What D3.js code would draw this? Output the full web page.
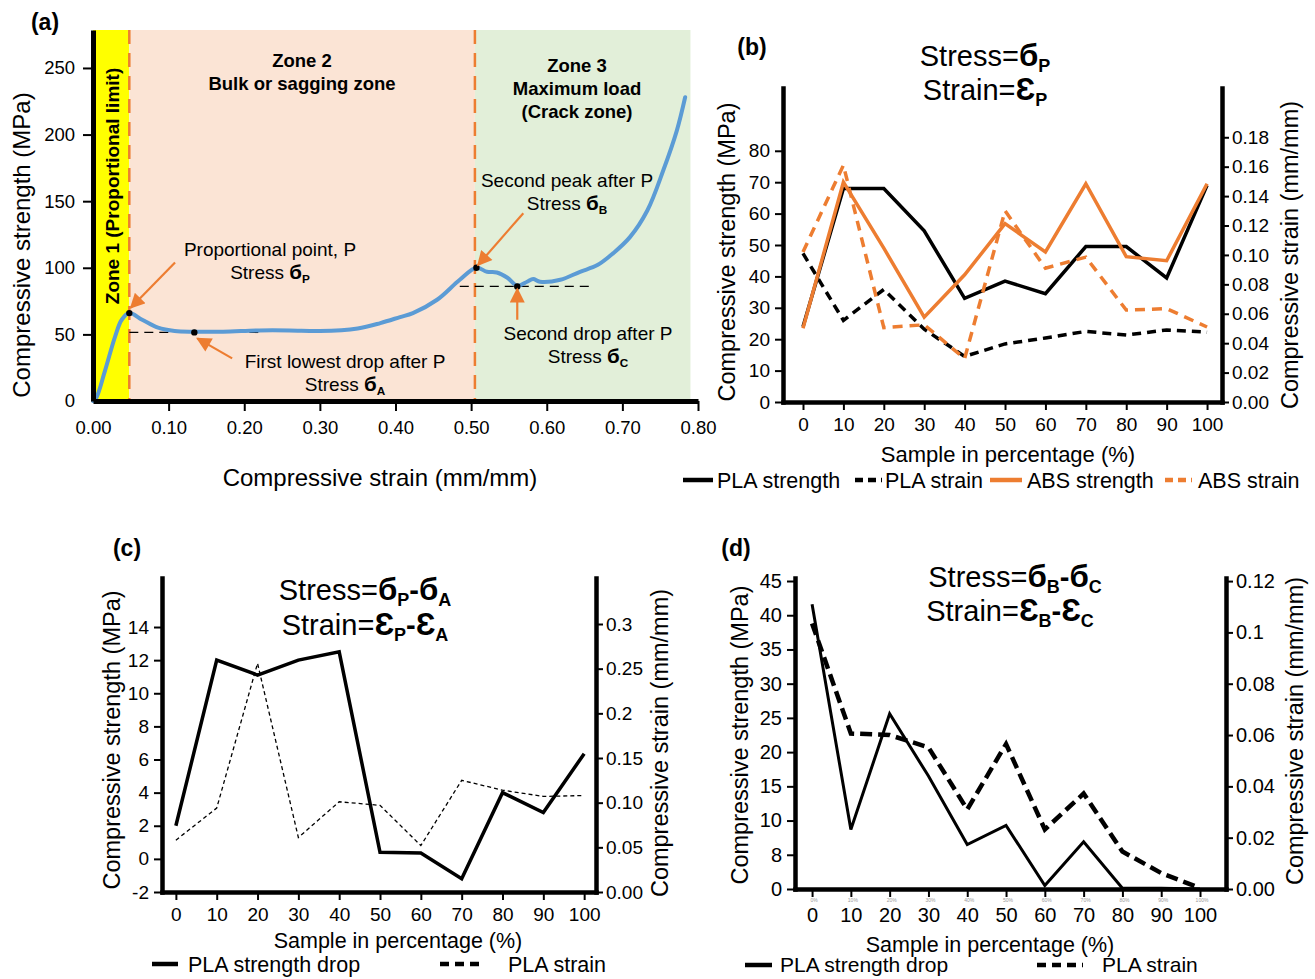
<!DOCTYPE html>
<html>
<head>
<meta charset="utf-8">
<script src="https://cdn.jsdelivr.net/npm/d3@7"></script>
<style>
  body { margin: 0; background: #fff; }
  svg { font-family: "Liberation Sans", Arial, sans-serif; }
  .ax path { stroke: #000; }
  .ax line { stroke: #000; stroke-width: 2; }
  .ax text { fill: #000; }
</style>
</head>
<body>
<svg width="1315" height="979"></svg>
<script>
/* global d3 */
var svg = d3.select('svg')

// ---------- data ----------
var samples = [0, 10, 20, 30, 40, 50, 60, 70, 80, 90, 100]

// (a) typical stress-strain curve
var curveStrain = [0, 0.004, 0.016, 0.029, 0.038, 0.048, 0.065, 0.086, 0.108, 0.134, 0.172, 0.22, 0.26, 0.30, 0.35, 0.38, 0.406, 0.423, 0.455, 0.485, 0.507, 0.521, 0.534, 0.548, 0.561, 0.574, 0.582, 0.591, 0.618, 0.644, 0.667, 0.688, 0.710, 0.733, 0.754, 0.772, 0.783]
var curveStress = [0, 2, 23, 48, 61, 66, 61, 55, 52.5, 52, 52, 53, 53, 52.5, 54.5, 58.5, 63, 66, 76, 91, 100, 97, 96.5, 92.5, 86.5, 89.5, 91.5, 89.5, 91, 97, 102, 111, 123, 143, 173, 203, 228]
var zoneEdges = [0, 0.048, 0.505, 0.79]
var zoneColors = ['#ffff00', '#fbe4d5', '#e2efd9']
var keyStrain = [0.048, 0.134, 0.507, 0.561]
var keyStress = [66, 51.5, 100, 86]
var aTicksX = [0, 0.1, 0.2, 0.3, 0.4, 0.5, 0.6, 0.7, 0.8]
var aTicksY = [0, 50, 100, 150, 200, 250]

// (b) proportional point
var plaStrengthB = [24, 68, 68, 54.5, 33, 38.5, 34.5, 49.5, 49.5, 39.5, 69]
var plaStrainB = [0.101, 0.0555, 0.0765, 0.0495, 0.031, 0.0395, 0.0435, 0.048, 0.0455, 0.049, 0.0475]
var absStrengthB = [23.5, 70, 49, 27, 40.5, 56.8, 47.8, 69.5, 46.3, 45, 69.5]
var absStrainB = [0.102, 0.161, 0.0505, 0.0525, 0.0295, 0.13, 0.091, 0.0985, 0.0625, 0.0635, 0.051]
var bTicksL = [0, 10, 20, 30, 40, 50, 60, 70, 80]
var bTicksR = [0, 0.02, 0.04, 0.06, 0.08, 0.10, 0.12, 0.14, 0.16, 0.18]

// (c) P - A
var plaDropC = [2.0, 12.0, 11.1, 12.0, 12.5, 0.4, 0.35, -1.2, 4.0, 2.8, 6.35]
var plaStrainC = [0.058, 0.094, 0.256, 0.061, 0.101, 0.097, 0.052, 0.125, 0.114, 0.107, 0.108]
var cTicksL = [-2, 0, 2, 4, 6, 8, 10, 12, 14]
var cTicksR = [0, 0.05, 0.10, 0.15, 0.2, 0.25, 0.3]
var cLabelsR = ['0.00', '0.05', '0.10', '0.15', '0.2', '0.25', '0.3']

// (d) B - C
var plaDropD = [41.6, 8.7, 25.6, 16.5, 6.5, 9.3, 0.5, 6.9, 0.1, 0.1, 0]
var plaStrainD = [0.1035, 0.0606, 0.060, 0.0552, 0.031, 0.0565, 0.0232, 0.0372, 0.0146, 0.0062, 0.0004]
var dTicksL = [0, 5, 10, 15, 20, 25, 30, 35, 40, 45]
var dLabelsL = ['0', '8', '10', '15', '20', '25', '30', '35', '40', '45']
var dTicksR = [0, 0.02, 0.04, 0.06, 0.08, 0.1, 0.12]
var dLabelsR = ['0.00', '0.02', '0.04', '0.06', '0.08', '0.1', '0.12']
var dSmall = ['0%', '10%', '20%', '30%', '40%', '50%', '60%', '70%', '80%', '90%', '100%']

var ORANGE = '#ed7d31'
var BLUE = '#5b9bd5'

// ---------- helpers ----------
function sig (s) { return [{ t: 'б', b: 1, big: 1 }, { t: s, b: 1, sub: 1 }] }
function eps (s) { return [{ t: 'Ɛ', b: 1, big: 1 }, { t: s, b: 1, sub: 1 }] }

function rich (g, x, y, size, parts, anchor) {
  var t = g.append('text')
      .attr('x', x).attr('y', y)
      .attr('font-size', size)
      .attr('text-anchor', anchor || 'middle')
  var down = false
  parts.forEach(function (p) {
    var s = t.append('tspan').text(p.t)
    if (p.b) s.attr('font-weight', 'bold')
    if (p.big) s.attr('font-size', size * 1.08)
    if (p.sub) {
      s.attr('font-size', size * 0.62)
      if (!down) { s.attr('dy', size * 0.2); down = true }
    } else if (down) {
      s.attr('dy', -size * 0.2); down = false
    }
  })
  return t
}

function label (g, x, y, size, txt, opts) {
  opts = opts || {}
  var t = g.append('text')
      .attr('x', x).attr('y', y)
      .attr('dy', '0.35em')
      .attr('font-size', size)
      .attr('text-anchor', opts.anchor || 'middle')
      .text(txt)
  if (opts.bold) t.attr('font-weight', 'bold')
  if (opts.rot) t.attr('transform', 'rotate(-90,' + x + ',' + y + ')')
  return t
}

var defs = svg.append('defs')
defs.append('marker')
    .attr('id', 'arr')
    .attr('viewBox', '0 0 10 10')
    .attr('refX', 9).attr('refY', 5)
    .attr('markerUnits', 'userSpaceOnUse')
    .attr('markerWidth', 16).attr('markerHeight', 15)
    .attr('orient', 'auto')
  .append('path')
    .attr('d', 'M0,0 L10,5 L0,10 z')
    .attr('fill', ORANGE)

// ---------- panel (a) ----------
;(function () {
  var g = svg.append('g')
  var x = d3.scaleLinear().domain([0, 0.8]).range([93, 698])
  var y = d3.scaleLinear().domain([0, 278.5]).range([401, 30])

  // zones
  g.selectAll('rect.zone')
    .data(zoneColors)
    .enter().append('rect')
      .attr('x', (d, i) => x(zoneEdges[i]))
      .attr('width', (d, i) => x(zoneEdges[i + 1]) - x(zoneEdges[i]))
      .attr('y', y(278.5))
      .attr('height', y(0) - y(278.5))
      .attr('fill', d => d)

  g.selectAll('line.zb')
    .data([zoneEdges[1], zoneEdges[2]])
    .enter().append('line')
      .attr('x1', d => x(d)).attr('x2', d => x(d))
      .attr('y1', y(278.5)).attr('y2', y(0))
      .attr('stroke', ORANGE)
      .attr('stroke-width', 2.5)
      .attr('stroke-dasharray', '14,9')

  // reference dashed levels
  g.append('line')
      .attr('x1', x(keyStrain[0])).attr('x2', x(0.225))
      .attr('y1', y(keyStress[1])).attr('y2', y(keyStress[1]))
      .attr('stroke', '#000').attr('stroke-width', 1.3).attr('stroke-dasharray', '9,6')
  g.append('line')
      .attr('x1', x(0.485)).attr('x2', x(0.66))
      .attr('y1', y(keyStress[3])).attr('y2', y(keyStress[3]))
      .attr('stroke', '#000').attr('stroke-width', 1.3).attr('stroke-dasharray', '9,6')

  // curve
  var pts = curveStrain.map((d, i) => [d, curveStress[i]])
  g.append('path')
      .datum(pts)
      .attr('fill', 'none')
      .attr('stroke', BLUE)
      .attr('stroke-width', 4)
      .attr('stroke-linecap', 'round')
      .attr('d', d3.line().x(d => x(d[0])).y(d => y(d[1])).curve(d3.curveCatmullRom.alpha(0.5)))

  g.selectAll('circle.key')
    .data(keyStrain)
    .enter().append('circle')
      .attr('cx', d => x(d))
      .attr('cy', (d, i) => y(keyStress[i]))
      .attr('r', 3.2)
      .attr('fill', '#000')

  // arrows
  var arrows = [
    [[0.1085, 104], [0.05, 70]],
    [[0.184, 32], [0.138, 47]],
    [[0.569, 141], [0.509, 102]],
    [[0.561, 61], [0.561, 84]]
  ]
  g.selectAll('line.arr')
    .data(arrows)
    .enter().append('line')
      .attr('x1', d => x(d[0][0])).attr('y1', d => y(d[0][1]))
      .attr('x2', d => x(d[1][0])).attr('y2', d => y(d[1][1]))
      .attr('stroke', ORANGE)
      .attr('stroke-width', 2.2)
      .attr('marker-end', 'url(#arr)')

  // axes
  var ax = g.append('g').attr('class', 'ax')
      .attr('transform', 'translate(0,' + y(0) + ')')
      .call(d3.axisBottom(x).tickValues(aTicksX).tickFormat(d3.format('.2f'))
        .tickSize(10).tickSizeOuter(0).tickPadding(10))
  ax.select('.domain').attr('stroke-width', 5)
  ax.selectAll('.tick line').attr('stroke-width', 3)
  ax.selectAll('text').attr('font-size', 18.5)
  ax.selectAll('.tick').filter(d => d === 0).select('line').remove()

  var ay = g.append('g').attr('class', 'ax')
      .attr('transform', 'translate(' + x(0) + ',0)')
      .call(d3.axisLeft(y).tickValues(aTicksY).tickSize(10).tickSizeOuter(0).tickPadding(8))
  ay.select('.domain').attr('stroke-width', 5)
  ay.selectAll('.tick line').attr('stroke-width', 2.5)
  ay.selectAll('text').attr('font-size', 18.5)
  ay.selectAll('.tick').filter(d => d === 0).select('line').remove()

  // texts
  label(g, 112, 186, 19, 'Zone 1 (Proportional limit)', { bold: true, rot: true })
  label(g, 302, 61, 18.5, 'Zone 2', { bold: true })
  label(g, 302, 84, 18.5, 'Bulk or sagging zone', { bold: true })
  label(g, 577, 66, 18.5, 'Zone 3', { bold: true })
  label(g, 577, 89, 18.5, 'Maximum load', { bold: true })
  label(g, 577, 112, 18.5, '(Crack zone)', { bold: true })

  label(g, 270, 249, 19, 'Proportional point, P')
  rich(g, 270, 279, 19, [{ t: 'Stress ' }].concat(sig('P')))
  label(g, 345, 361, 19, 'First lowest drop after P')
  rich(g, 345, 391, 19, [{ t: 'Stress ' }].concat(sig('A')))
  label(g, 567, 180, 19, 'Second peak after P')
  rich(g, 567, 210, 19, [{ t: 'Stress ' }].concat(sig('B')))
  label(g, 588, 333, 19, 'Second drop after P')
  rich(g, 588, 363, 19, [{ t: 'Stress ' }].concat(sig('C')))

  label(g, 22, 245, 24, 'Compressive strength (MPa)', { rot: true })
  label(g, 380, 478, 24, 'Compressive strain (mm/mm)')
  label(g, 45, 22, 23, '(a)', { bold: true })
})()

// ---------- panels (b) (c) (d) ----------
function dualPanel (p) {
  var g = svg.append('g')
  var x = d3.scaleLinear().domain(p.xDomain).range([p.left, p.right])
  var yL = d3.scaleLinear().domain(p.yLDomain).range([p.bottom, p.top])
  var yR = d3.scaleLinear().domain(p.yRDomain).range([p.bottom, p.top])

  p.series.forEach(function (s) {
    var yy = s.axis === 'R' ? yR : yL
    g.append('path')
        .datum(samples.map((d, i) => [d, s.values[i]]))
        .attr('fill', 'none')
        .attr('stroke', s.color)
        .attr('stroke-width', s.width)
        .attr('stroke-dasharray', s.dash || null)
        .attr('stroke-linejoin', 'miter')
        .attr('d', d3.line().x(d => x(d[0])).y(d => yy(d[1])))
  })

  var ax = g.append('g').attr('class', 'ax')
      .attr('transform', 'translate(0,' + p.bottom + ')')
      .call(d3.axisBottom(x).tickValues(samples).tickSize(8).tickSizeOuter(0).tickPadding(p.xPad || 8))
  ax.selectAll('text').attr('font-size', p.tickSize)

  var al = g.append('g').attr('class', 'ax')
      .attr('transform', 'translate(' + p.left + ',0)')
      .call(d3.axisLeft(yL).tickValues(p.ticksL)
        .tickFormat((d, i) => p.labelsL ? p.labelsL[i] : d)
        .tickSize(8).tickSizeOuter(0).tickPadding(5))
  al.selectAll('text').attr('font-size', p.tickSize)

  var ar = g.append('g').attr('class', 'ax')
      .attr('transform', 'translate(' + p.right + ',0)')
      .call(d3.axisRight(yR).tickValues(p.ticksR)
        .tickFormat((d, i) => p.labelsR ? p.labelsR[i] : d3.format('.2f')(d))
        .tickSize(7).tickSizeOuter(0).tickPadding(3))
  ar.selectAll('text').attr('font-size', p.tickSize)

  g.selectAll('.domain').attr('stroke-width', 4.5).attr('stroke-linecap', 'square')

  rich(g, p.title[0], p.title[1], 29, p.line1)
  rich(g, p.title[2], p.title[3], 29, p.line2)
  label(g, p.tag[0], p.tag[1], 23, p.tag[2], { bold: true })
  label(g, p.yLabL[0], p.yLabL[1], 23.5, 'Compressive strength (MPa)', { rot: true })
  label(g, p.yLabR[0], p.yLabR[1], 23.5, 'Compressive strain (mm/mm)', { rot: true })
  label(g, p.xLab[0], p.xLab[1], p.xLabSize || 22, 'Sample in percentage (%)')

  p.legend.forEach(function (l) {
    g.append('line')
        .attr('x1', l.x1).attr('x2', l.x2)
        .attr('y1', p.legendY).attr('y2', p.legendY)
        .attr('stroke', l.color)
        .attr('stroke-width', 4.5)
        .attr('stroke-dasharray', l.dash || null)
    label(g, l.tx, p.legendY, p.legendSize || 21.5, l.text, { anchor: 'start' })
  })
  return { g: g, x: x, yL: yL }
}

dualPanel({
  left: 783, right: 1222, top: 88, bottom: 402,
  xDomain: [-4.95, 103.7], yLDomain: [0, 100], yRDomain: [0, 0.2135],
  ticksL: bTicksL, ticksR: bTicksR, tickSize: 19,
  series: [
    { values: plaStrengthB, axis: 'L', color: '#000', width: 3.5 },
    { values: plaStrainB, axis: 'R', color: '#000', width: 3.5, dash: '9,6' },
    { values: absStrengthB, axis: 'L', color: ORANGE, width: 3.5 },
    { values: absStrainB, axis: 'R', color: ORANGE, width: 3.5, dash: '10,7' }
  ],
  title: [985, 66, 985, 100],
  line1: [{ t: 'Stress=' }].concat(sig('P')),
  line2: [{ t: 'Strain=' }].concat(eps('P')),
  tag: [752, 47, '(b)'],
  yLabL: [727, 252], yLabR: [1290, 255], xLab: [1008, 454],
  legendY: 480,
  legend: [
    { x1: 683, x2: 713, tx: 717, text: 'PLA strength', color: '#000' },
    { x1: 855, x2: 882, tx: 885, text: 'PLA strain', color: '#000', dash: '8,5' },
    { x1: 990, x2: 1022, tx: 1027, text: 'ABS strength', color: ORANGE },
    { x1: 1165, x2: 1192, tx: 1198, text: 'ABS strain', color: ORANGE, dash: '8,5' }
  ]
})

dualPanel({
  left: 162, right: 596, top: 578, bottom: 892,
  xDomain: [-3.4, 102.9], yLDomain: [-2, 16.96], yRDomain: [0, 0.3515],
  ticksL: cTicksL, ticksR: cTicksR, labelsR: cLabelsR, tickSize: 19, xPad: 8,
  series: [
    { values: plaDropC, axis: 'L', color: '#000', width: 3.5 },
    { values: plaStrainC, axis: 'R', color: '#000', width: 1.3, dash: '4,3' }
  ],
  title: [365, 600, 365, 635],
  line1: [{ t: 'Stress=' }].concat(sig('P'), [{ t: '-', b: 1 }], sig('A')),
  line2: [{ t: 'Strain=' }].concat(eps('P'), [{ t: '-', b: 1 }], eps('A')),
  tag: [127, 548, '(c)'],
  yLabL: [112, 740], yLabR: [660, 743], xLab: [398, 940], xLabSize: 21.5,
  legendY: 964,
  legend: [
    { x1: 152, x2: 178, tx: 188, text: 'PLA strength drop', color: '#000' },
    { x1: 440, x2: 485, tx: 508, text: 'PLA strain', color: '#000', dash: '9,6' }
  ]
})

var pd = dualPanel({
  left: 795, right: 1226, top: 578, bottom: 889,
  xDomain: [-4.4, 106.7], yLDomain: [0, 45.44], yRDomain: [0, 0.1212],
  ticksL: dTicksL, labelsL: dLabelsL, ticksR: dTicksR, labelsR: dLabelsR, tickSize: 20, xPad: 11,
  series: [
    { values: plaDropD, axis: 'L', color: '#000', width: 3 },
    { values: plaStrainD, axis: 'R', color: '#000', width: 4.5, dash: '12,6' }
  ],
  title: [1015, 587, 1010, 621],
  line1: [{ t: 'Stress=' }].concat(sig('B'), [{ t: '-', b: 1 }], sig('C')),
  line2: [{ t: 'Strain=' }].concat(eps('B'), [{ t: '-', b: 1 }], eps('C')),
  tag: [736, 548, '(d)'],
  yLabL: [740, 735], yLabR: [1295, 731], xLab: [990, 944], xLabSize: 21.5,
  legendY: 965,
  legendSize: 21,
  legend: [
    { x1: 745, x2: 772, tx: 780, text: 'PLA strength drop', color: '#000' },
    { x1: 1037, x2: 1083, tx: 1102, text: 'PLA strain', color: '#000', dash: '9,6' }
  ]
})

// faint leftover category labels under panel (d)
pd.g.selectAll('text.small')
  .data(dSmall)
  .enter().append('text')
    .attr('x', (d, i) => pd.x(samples[i]) + 2)
    .attr('y', 902)
    .attr('font-size', 5)
    .attr('fill', '#999')
    .attr('text-anchor', 'middle')
    .text(d => d)
</script>
</body>
</html>
